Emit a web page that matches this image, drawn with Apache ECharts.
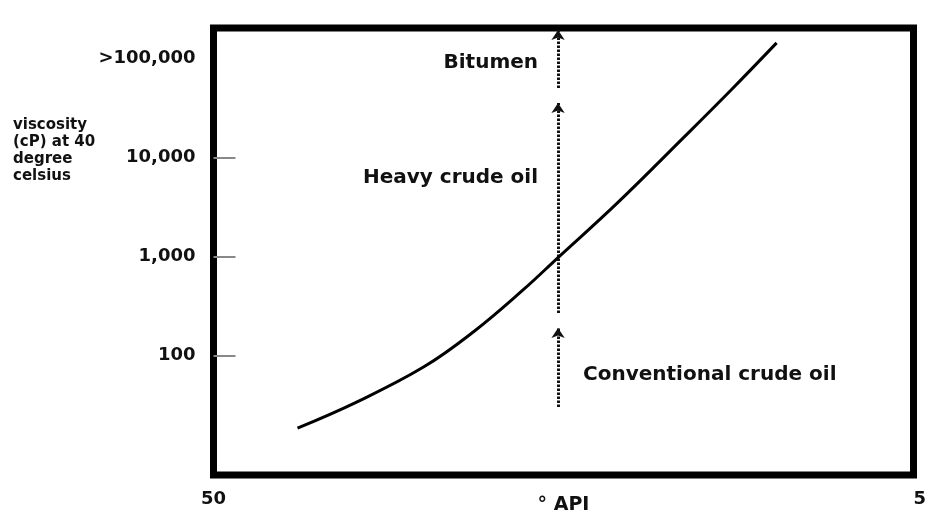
<!DOCTYPE html>
<html>
<head>
<meta charset="utf-8">
<script src="https://cdn.jsdelivr.net/npm/echarts@6/dist/echarts.min.js"></script>
<style>
html,body{margin:0;padding:0;background:#fff;}
#chart{width:930px;height:519px;}
</style>
</head>
<body>
<div id="chart"></div>
<script>
// ---- data ----
const apiValues = [44.6, 40.8, 36.5, 33.3, 30.1, 27.85, 24.1, 19.8, 16.6, 13.8];
const viscosity = [18.4, 33.7, 76, 172, 457, 970, 3380, 15700, 50100, 143000];

const yTickValues = [100, 1000, 10000];
const yLabelValues = [100, 1000, 10000, 100000];
const yLabelTexts = ['100', '1,000', '10,000', '>100,000'];
const xLabelValues = [50, 5];
const xLabelTexts = ['50', '5'];

const arrowApi = 27.85;
const arrowFrom = [30, 267, 50000];
const arrowTo = [189, 35400, 193000];

const annoTexts = ['Bitumen', 'Heavy crude oil', 'Conventional crude oil'];
const annoValues = [90000, 6200, 63];
const annoSide = ['left', 'left', 'right'];

const yTitle = 'viscosity\n(cP) at 40\ndegree\ncelsius';
const xTitle = '\u00B0 API';

// ---- chart ----
const chart = echarts.init(document.getElementById('chart'), null, {renderer: 'canvas'});
const F = '"DejaVu Sans", Verdana, sans-serif';

const curve = apiValues.map((a, i) => [a, viscosity[i]]);

const option = {
  backgroundColor: '#ffffff',
  animation: false,
  title: {
    text: yTitle,
    left: 8,
    top: 112,
    textStyle: {fontFamily: F, fontSize: 15, fontWeight: 'bold', lineHeight: 17, color: '#111'}
  },
  grid: {
    left: 213.5, right: 16.5, top: 28, bottom: 44,
    outerBoundsMode: 'none', containLabel: false,
    show: true, borderColor: '#000', borderWidth: 7, backgroundColor: 'transparent'
  },
  xAxis: {
    type: 'value', min: 5, max: 50, inverse: true,
    name: xTitle, nameLocation: 'middle', nameGap: 21, nameMoveOverlap: false,
    nameTextStyle: {fontFamily: F, fontSize: 19, fontWeight: 'bold', color: '#111'},
    axisLine: {show: false}, axisTick: {show: false}, splitLine: {show: false},
    axisLabel: {
      customValues: xLabelValues,
      formatter: v => { const i = xLabelValues.indexOf(Math.round(v)); return i >= 0 ? xLabelTexts[i] : ''; },
      fontFamily: F, fontSize: 18, fontWeight: 'bold', color: '#111', margin: 15,
      alignMinLabel: 'center', alignMaxLabel: 'left'
    }
  },
  yAxis: {
    type: 'log', logBase: 10, min: 6.18, max: 202000,
    axisLine: {show: false}, splitLine: {show: false},
    axisTick: {show: true, inside: true, length: 22, customValues: yTickValues, lineStyle: {color: '#888', width: 2}},
    axisLabel: {
      customValues: yLabelValues,
      formatter: v => { const e = Math.round(Math.log10(v)); const i = yLabelValues.indexOf(Math.pow(10, e)); return i >= 0 ? yLabelTexts[i] : ''; },
      fontFamily: F, fontSize: 18, fontWeight: 'bold', color: '#111', margin: 18
    }
  },
  series: [
    {
      type: 'line', data: curve, smooth: 0.4, showSymbol: false, symbol: 'none',
      lineStyle: {color: '#000', width: 3}, z: 3
    },
    {
      type: 'lines', coordinateSystem: 'cartesian2d',
      symbol: ['none', 'arrow'], symbolSize: 10,
      lineStyle: {color: '#111', width: 3, type: [2.5, 1.5], opacity: 1},
      data: arrowFrom.map((f, i) => ({coords: [[arrowApi, f], [arrowApi, arrowTo[i]]]})),
      z: 2
    },
    {
      type: 'scatter', symbolSize: 0, silent: true,
      itemStyle: {opacity: 1, color: 'transparent'},
      data: annoTexts.map((t, i) => ({
        name: t, value: [arrowApi, annoValues[i]],
        label: {position: annoSide[i], distance: annoSide[i] === 'left' ? 20 : 25}
      })),
      label: {show: true, formatter: p => p.name, fontFamily: F, fontSize: 20, fontWeight: 'bold', color: '#111', opacity: 1}
    }
  ]
};
chart.setOption(option);
</script>
</body>
</html>
